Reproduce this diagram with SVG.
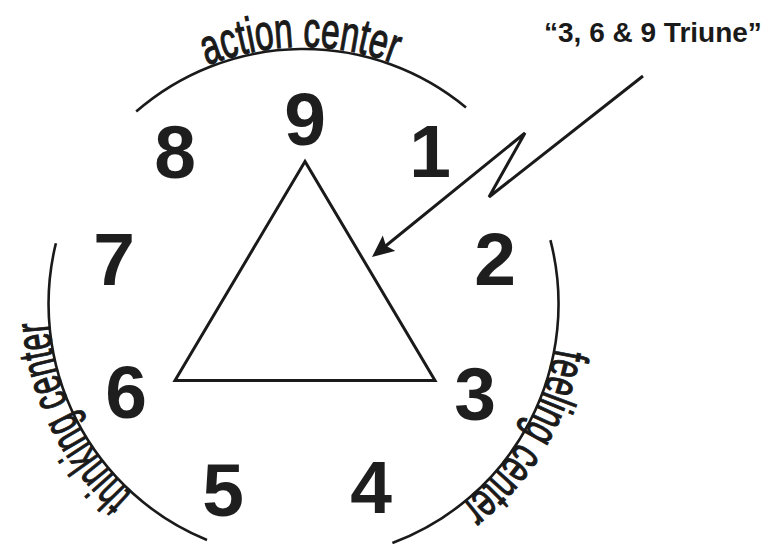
<svg xmlns="http://www.w3.org/2000/svg" width="766" height="544" viewBox="0 0 766 544">
<style>
.arc{fill:none;stroke:#1a1a1a;stroke-width:2.6}
.num{font-family:"Liberation Sans",Arial,sans-serif;font-weight:bold;font-size:75px;fill:#1e1e1e;text-anchor:middle}
.ctr{font-family:"Liberation Sans",Arial,sans-serif;font-size:50px;fill:#1a1a1a;stroke:#1a1a1a;stroke-width:1.2}
.title{font-family:"Liberation Sans",Arial,sans-serif;font-weight:bold;font-size:28px;fill:#1a1a1a}
.tri{fill:none;stroke:#1a1a1a;stroke-width:3;stroke-linejoin:miter}
.conn{fill:none;stroke:#1a1a1a;stroke-width:3;stroke-linejoin:miter}
</style>
<defs>
<marker id="ah" markerUnits="userSpaceOnUse" markerWidth="24" markerHeight="22" viewBox="0 0 24 22" refX="14" refY="10" orient="auto">
<path d="M0,0 L22,10 L0,20 L4,10 z" fill="#1a1a1a"/>
</marker>
<path id="tpAction" d="M207.2,65.7 A257,257 0 0 1 393.9,63.4"/>
<path id="tpThinking" d="M132.9,493.5 A255,255 0 0 1 49.1,321.8"/>
<path id="tpFeeling" d="M554.6,348.3 A255,255 0 0 1 460.5,504.9"/>
</defs>
<rect width="766" height="544" fill="#fff"/>

<g id="action-center">
<path class="arc" d="M136.2,111.6 A255,255 0 0 1 466,107.5"/>
<text class="ctr"><textPath href="#tpAction" textLength="191" lengthAdjust="spacingAndGlyphs">action center</textPath></text>
</g>
<g id="feeling-center">
<path class="arc" d="M550.4,240.1 A255,255 0 0 1 392.4,543"/>
<text class="ctr"><textPath href="#tpFeeling" textLength="187" lengthAdjust="spacingAndGlyphs">feeling center</textPath></text>
</g>
<g id="thinking-center">
<path class="arc" d="M207,540 A255,255 0 0 1 55.9,243.2"/>
<text class="ctr"><textPath href="#tpThinking" textLength="196" lengthAdjust="spacingAndGlyphs">thinking center</textPath></text>
</g>

<g id="triangle">
<path class="tri" d="M305,161.5 L175,380.5 L435,380.5 Z"/>
</g>

<g id="n9"><text class="num" x="305" y="145">9</text></g>
<g id="n8"><text class="num" x="175" y="178">8</text></g>
<g id="n1"><text class="num" x="430" y="177">1</text></g>
<g id="n7"><text class="num" x="114" y="285">7</text></g>
<g id="n2"><text class="num" x="495" y="285">2</text></g>
<g id="n6"><text class="num" x="126" y="418">6</text></g>
<g id="n3"><text class="num" x="475" y="420">3</text></g>
<g id="n5"><text class="num" x="223" y="516">5</text></g>
<g id="n4"><text class="num" x="371" y="513">4</text></g>

<g id="label-triune"><text class="title" x="544" y="42">“3, 6 &amp; 9 Triune”</text></g>

<g id="connectors">
<path class="conn" d="M643,76 L489,197 L525,133 L378.2,252" marker-end="url(#ah)"/>
</g>
</svg>
